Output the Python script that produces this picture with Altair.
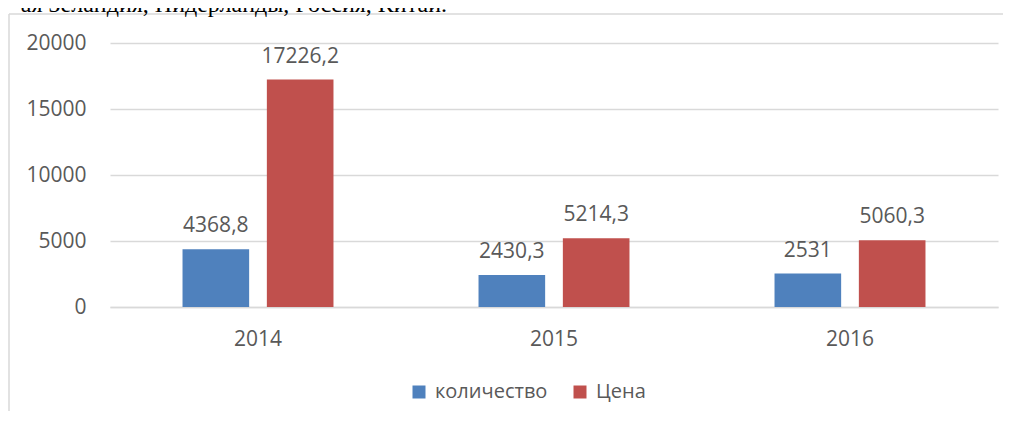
import altair as alt
import pandas as pd

# ---- data ----
years = ["2014", "2015", "2016"]
series_names = ["количество", "Цена"]
quantity = [4368.8, 2430.3, 2531]
price = [17226.2, 5214.3, 5060.3]
y_ticks = [0, 5000, 10000, 15000, 20000]
header_text = "ая Зеландия, Нидерланды, Россия, Китай."
bar_colors = ["#4F81BD", "#C0504D"]


def fmt(v):
    return f"{v:g}".replace(".", ",")


rows = []
for i, yr in enumerate(years):
    rows.append({"year": yr, "series": series_names[0], "value": quantity[i], "label": fmt(quantity[i])})
    rows.append({"year": yr, "series": series_names[1], "value": price[i], "label": fmt(price[i])})
df = pd.DataFrame(rows)
one = pd.DataFrame({"k": [0]})

W, H = 888, 264
FONT = "Open Sans"
TXT = "#595959"
GRID = "#D9D9D9"

x = alt.X(
    "year:N",
    title=None,
    sort=years,
    scale=alt.Scale(paddingInner=0.49, paddingOuter=0.245),
    axis=alt.Axis(
        labelAngle=0, ticks=False, domain=True, domainColor=GRID, domainWidth=1.5,
        labelPadding=21, labelFontSize=21, labelColor=TXT, labelFont=FONT, grid=False,
    ),
)
xo = alt.XOffset("series:N", sort=series_names, scale=alt.Scale(paddingInner=0.21, paddingOuter=0))
y = alt.Y(
    "value:Q",
    title=None,
    scale=alt.Scale(domain=[0, 20000], nice=False),
    axis=alt.Axis(
        values=y_ticks, format="d", ticks=False, domain=False, gridColor=GRID, gridWidth=1.5,
        labelPadding=24, labelFontSize=21, labelColor=TXT, labelFont=FONT,
    ),
)
color = alt.Color(
    "series:N",
    sort=series_names,
    scale=alt.Scale(domain=series_names, range=bar_colors),
    legend=alt.Legend(
        title=None, orient="none", legendX=299, legendY=339, direction="horizontal",
        symbolType="square", symbolSize=169, symbolStrokeWidth=0,
        labelFontSize=20, labelColor=TXT, labelFont=FONT, labelOffset=6,
        columnPadding=22, padding=0,
    ),
)

frame_left = alt.Chart(one).mark_rule(color=GRID, strokeWidth=1.5).encode(
    x=alt.value(-101), y=alt.value(-29), y2=alt.value(380)
)
frame_top = alt.Chart(one).mark_rule(color=GRID, strokeWidth=1.5).encode(
    x=alt.value(-101), x2=alt.value(893), y=alt.value(-29)
)

header = alt.Chart(one).mark_text(
    align="right", baseline="alphabetic", font="Liberation Serif", fontSize=24, color="black"
).encode(x=alt.value(337), y=alt.value(-31), text=alt.value(header_text))

bars = alt.Chart(df).mark_bar().encode(x=x, xOffset=xo, y=y, color=color)

labels = alt.Chart(df).mark_text(
    baseline="alphabetic", dy=-17, fontSize=21, font=FONT, color=TXT
).encode(x=x, xOffset=xo, y=y, text="label:N")

chart = (
    alt.layer(frame_left, frame_top, bars, labels, header)
    .properties(
        width=W,
        height=H,
        autosize=alt.AutoSizeParams(type="none"),
        padding={"left": 102, "top": 35, "right": 5, "bottom": 104},
    )
    .configure_view(stroke=None)
)

chart.save("out.html", embed_options={"renderer": "svg", "actions": False})
